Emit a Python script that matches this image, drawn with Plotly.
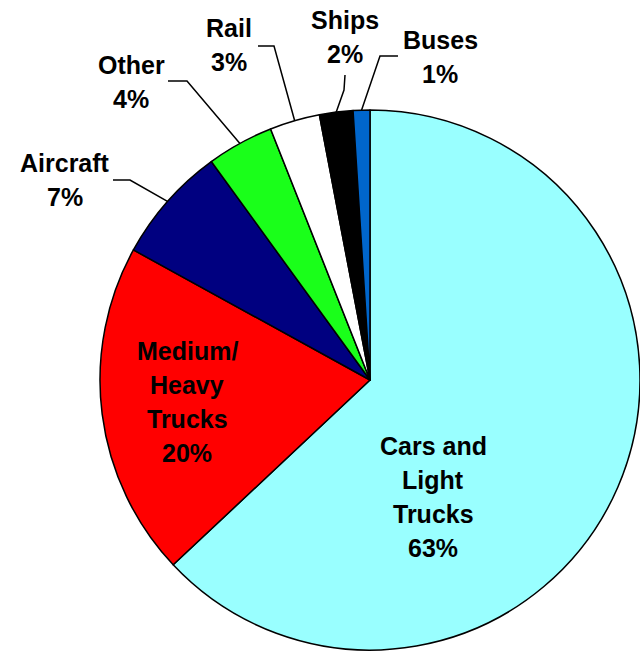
import math
import plotly.graph_objects as go

# ---- data ----
labels = ["Cars and Light Trucks", "Medium/Heavy Trucks", "Aircraft", "Other", "Rail", "Ships", "Buses"]
values = [63, 20, 7, 4, 3, 2, 1]
colors = ["#99FFFF", "#FF0000", "#000080", "#1AFF1A", "#FFFFFF", "#000000", "#0066CC"]
label_lines = [["Cars and", "Light", "Trucks"], ["Medium/", "Heavy", "Trucks"],
               ["Aircraft"], ["Other"], ["Rail"], ["Ships"], ["Buses"]]

# ---- layout (pixels, y from top) ----
W, H = 640, 651
CX, CY, R = 370, 380, 270
# label block centre (x, y of first line)
label_pos = [(433, 446), (187, 351), (65, 163), (131, 65), (229, 28), (345, 20), (440, 40)]
LINE = 34
# leader line elbow and end points (None = inside label)
leaders = [None, None,
           [(130, 180), (113, 180)],
           [(187, 81), (168, 81)],
           [(274, 46), (258, 46)],
           [(344, 90), (345, 75)],
           [(380, 56), (398, 56)]]


def px(x):
    return x / W


def py(y):
    return 1 - y / H


total = sum(values)
fig = go.Figure(go.Pie(
    labels=labels, values=values, sort=False, direction="clockwise", rotation=0,
    marker=dict(colors=colors, line=dict(color="black", width=1.5)),
    textinfo="none", hoverinfo="label+percent",
    domain=dict(x=[px(CX - R), px(CX + R)], y=[py(CY + R), py(CY - R)]),
))

annotations = []
shapes = []
cum = 0
for i, v in enumerate(values):
    pct = f"{round(v / total * 100)}%"
    lines = label_lines[i] + [pct]
    lx, ly = label_pos[i]
    for k, t in enumerate(lines):
        annotations.append(dict(
            x=px(lx), y=py(ly + k * LINE), xref="paper", yref="paper",
            text=f"<b>{t}</b>", showarrow=False, xanchor="center", yanchor="middle",
            font=dict(family="Arial, Liberation Sans, sans-serif", size=25, color="black"),
        ))
    mid = (cum + v / 2) / total * 2 * math.pi
    cum += v
    if leaders[i] is not None:
        ex = CX + R * math.sin(mid)
        ey = CY - R * math.cos(mid)
        pts = [(ex, ey)] + leaders[i]
        path = "M " + " L ".join(f"{px(a):.5f},{py(b):.5f}" for a, b in pts)
        shapes.append(dict(type="path", path=path, xref="paper", yref="paper",
                           line=dict(color="black", width=1.5)))

fig.update_layout(
    width=W, height=H, margin=dict(l=0, r=0, t=0, b=0),
    paper_bgcolor="white", plot_bgcolor="white", showlegend=False,
    annotations=annotations, shapes=shapes,
)
fig.write_html("out.html", config={"displayModeBar": False},
               post_script="document.body.style.margin='0';")
